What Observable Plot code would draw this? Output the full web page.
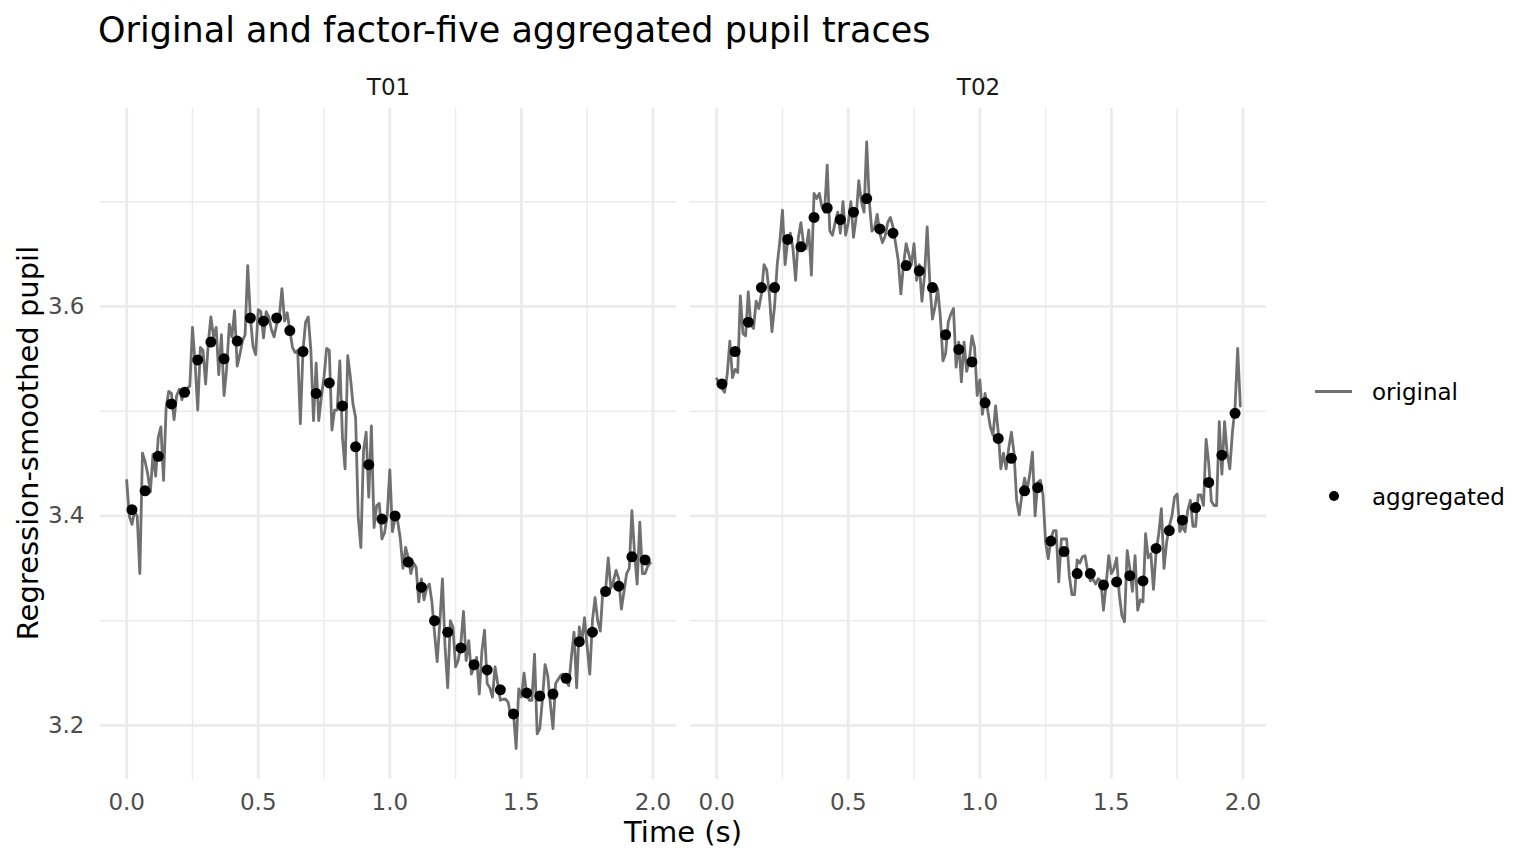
<!DOCTYPE html>
<html><head><meta charset="utf-8">
<script src="https://cdn.jsdelivr.net/npm/d3@7"></script>
<script src="https://cdn.jsdelivr.net/npm/@observablehq/plot@0.6"></script>
<style>
html,body{margin:0;padding:0;background:#fff;}
#wrap{position:relative;width:1536px;height:864px;overflow:hidden;font-family:"DejaVu Sans",sans-serif;background:#fff;}
#chart{position:absolute;left:0;top:60px;}
#overlay{position:absolute;left:0;top:0;pointer-events:none;}
</style></head><body>
<div id="wrap">
<div id="chart"></div>
<svg id="overlay" width="1536" height="864" font-family="DejaVu Sans, sans-serif"></svg>
</div>
<script>
// ---- data ----
const trials = ["T01", "T02"];
const titleText = "Original and factor-five aggregated pupil traces";
const xTitle = "Time (s)";
const yTitle = "Regression-smoothed pupil";
const legendLabels = ["original", "aggregated"];

const sampleStep = 0.01;     // seconds between original samples
const aggFactor = 5;         // aggregation factor

const t01Original = [
3.434,3.400,3.392,3.404,3.400, 3.345,3.460,3.452,3.440,3.423,
3.459,3.438,3.475,3.485,3.434, 3.504,3.519,3.517,3.492,3.515,
3.521,3.511,3.521,3.522,3.524, 3.580,3.546,3.501,3.561,3.558,
3.526,3.565,3.590,3.571,3.580, 3.535,3.573,3.515,3.541,3.583,
3.571,3.596,3.543,3.554,3.567, 3.573,3.639,3.590,3.562,3.554,
3.597,3.595,3.570,3.595,3.590, 3.578,3.571,3.583,3.590,3.617,
3.586,3.594,3.577,3.561,3.556, 3.558,3.488,3.558,3.585,3.590,
3.558,3.491,3.546,3.491,3.514, 3.533,3.560,3.558,3.482,3.501,
3.501,3.548,3.475,3.445,3.553, 3.533,3.507,3.494,3.399,3.370,
3.462,3.480,3.418,3.486,3.389, 3.410,3.412,3.378,3.384,3.400,
3.444,3.385,3.398,3.395,3.378, 3.350,3.370,3.360,3.345,3.355,
3.351,3.318,3.340,3.320,3.331, 3.335,3.318,3.288,3.261,3.298,
3.340,3.275,3.236,3.300,3.294, 3.256,3.262,3.278,3.309,3.262,
3.281,3.249,3.256,3.265,3.230, 3.271,3.291,3.240,3.236,3.227,
3.256,3.240,3.224,3.225,3.225, 3.222,3.208,3.212,3.178,3.235,
3.227,3.250,3.230,3.224,3.224, 3.268,3.192,3.197,3.225,3.258,
3.248,3.221,3.197,3.240,3.244, 3.248,3.249,3.243,3.238,3.265,
3.289,3.236,3.294,3.280,3.303, 3.275,3.249,3.300,3.322,3.300,
3.290,3.330,3.329,3.360,3.331, 3.338,3.348,3.340,3.311,3.328,
3.345,3.350,3.405,3.365,3.335, 3.394,3.345,3.345,3.352,3.355
];
const t02Original = [
3.531,3.526,3.522,3.518,3.535, 3.567,3.532,3.540,3.537,3.610,
3.574,3.572,3.614,3.582,3.579, 3.605,3.598,3.612,3.640,3.635,
3.612,3.576,3.600,3.640,3.662, 3.692,3.640,3.663,3.670,3.655,
3.625,3.665,3.680,3.660,3.655, 3.673,3.630,3.708,3.703,3.708,
3.695,3.690,3.735,3.672,3.668, 3.680,3.690,3.670,3.700,3.668,
3.680,3.700,3.666,3.685,3.720, 3.700,3.690,3.757,3.700,3.672,
3.675,3.688,3.670,3.661,3.667, 3.680,3.685,3.676,3.660,3.644,
3.612,3.640,3.660,3.650,3.640, 3.660,3.625,3.640,3.605,3.630,
3.676,3.622,3.588,3.600,3.617, 3.590,3.548,3.555,3.585,3.593,
3.598,3.542,3.566,3.528,3.566, 3.538,3.548,3.572,3.561,3.515,
3.530,3.497,3.517,3.501,3.485, 3.477,3.505,3.480,3.445,3.460,
3.445,3.465,3.480,3.460,3.415, 3.401,3.420,3.436,3.425,3.440,
3.461,3.400,3.432,3.434,3.420, 3.375,3.359,3.378,3.386,3.386,
3.337,3.378,3.378,3.378,3.343, 3.325,3.325,3.358,3.355,3.361,
3.362,3.347,3.338,3.340,3.335, 3.340,3.338,3.310,3.335,3.362,
3.345,3.350,3.360,3.325,3.305, 3.299,3.367,3.350,3.328,3.362,
3.310,3.320,3.318,3.383,3.360, 3.364,3.330,3.366,3.383,3.407,
3.350,3.375,3.390,3.400,3.418, 3.421,3.385,3.390,3.385,3.405,
3.415,3.390,3.390,3.420,3.420, 3.410,3.473,3.450,3.414,3.410,
3.410,3.490,3.440,3.490,3.460, 3.445,3.480,3.504,3.560,3.505
];
const t01Aggregated = [
3.406,3.424,3.457,3.507,3.518,3.549,3.566,3.550,3.567,3.589,
3.586,3.589,3.577,3.557,3.517,3.527,3.505,3.466,3.449,3.397,
3.400,3.356,3.332,3.300,3.289,3.274,3.258,3.253,3.234,3.211,
3.231,3.228,3.230,3.245,3.280,3.289,3.328,3.333,3.361,3.358
];
const t02Aggregated = [
3.526,3.557,3.585,3.618,3.618,3.664,3.657,3.685,3.694,3.683,
3.690,3.703,3.674,3.670,3.639,3.634,3.618,3.573,3.559,3.547,
3.508,3.474,3.455,3.424,3.427,3.376,3.366,3.345,3.345,3.334,
3.337,3.343,3.338,3.369,3.386,3.396,3.408,3.432,3.458,3.498
];
const xTicks = [0, 0.5, 1, 1.5, 2];
const xMinor = [0.25, 0.75, 1.25, 1.75];
const yTicks = [3.2, 3.4, 3.6];
const yMinor = [3.3, 3.5, 3.7];

// ---- build tables ----
const originalRows = [];
const aggRows = [];
[[trials[0], t01Original, t01Aggregated], [trials[1], t02Original, t02Aggregated]].forEach(([trial, orig, agg]) => {
  const times = orig.map((_, i) => Math.round(i * sampleStep * 1000) / 1000);
  orig.forEach((v, i) => originalRows.push({trial, time: times[i], value: v}));
  agg.forEach((v, k) => {
    const t = d3.mean(times.slice(k * aggFactor, (k + 1) * aggFactor));
    aggRows.push({trial, time: t, value: v});
  });
});

const grid = "#EBEBEB";
const chart = Plot.plot({
  width: 1536,
  height: 804,
  marginLeft: 100,
  marginRight: 269,
  marginTop: 48,
  marginBottom: 85,
  x: {domain: [-0.0995, 2.0895]},
  y: {domain: [3.1484, 3.789]},
  fx: {domain: trials, paddingInner: 0.0237, paddingOuter: 0},
  style: {fontFamily: '"DejaVu Sans", sans-serif', fontSize: "23px", color: "#4D4D4D", background: "#fff", overflow: "visible"},
  marks: [
    Plot.ruleX(xMinor, {stroke: grid, strokeWidth: 1.4}),
    Plot.ruleY(yMinor, {stroke: grid, strokeWidth: 1.4}),
    Plot.ruleX(xTicks, {stroke: grid, strokeWidth: 2.8}),
    Plot.ruleY(yTicks, {stroke: grid, strokeWidth: 2.8}),
    Plot.line(originalRows, {x: "time", y: "value", fx: "trial", stroke: "#707070", strokeWidth: 2.8}),
    Plot.dot(aggRows, {x: "time", y: "value", fx: "trial", fill: "#000", r: 5.5}),
    Plot.axisX({ticks: xTicks, tickFormat: d3.format(".1f"), tickSize: 0, tickPadding: 14, label: null}),
    Plot.axisY({ticks: yTicks, tickFormat: d3.format(".1f"), tickSize: 0, tickPadding: 16, label: null}),
    Plot.axisFx({anchor: "top", tickSize: 0, tickPadding: 14, label: null, color: "#1A1A1A"})
  ]
});
document.getElementById("chart").appendChild(chart);

// ---- title, axis titles, legend ----
const ov = d3.select("#overlay");
ov.append("text").attr("x", 98).attr("y", 42).attr("font-size", 35).attr("fill", "#000").text(titleText);
ov.append("text").attr("x", 683).attr("y", 842).attr("text-anchor", "middle").attr("font-size", 29).attr("fill", "#000").text(xTitle);
ov.append("text").attr("transform", "translate(38,443) rotate(-90)").attr("text-anchor", "middle").attr("font-size", 29).attr("fill", "#000").text(yTitle);
const lg = ov.append("g");
lg.append("line").attr("x1", 1315).attr("x2", 1352).attr("y1", 391.5).attr("y2", 391.5).attr("stroke", "#707070").attr("stroke-width", 2.8);
lg.append("circle").attr("cx", 1334).attr("cy", 496).attr("r", 5).attr("fill", "#000");
lg.append("text").attr("x", 1372).attr("y", 400).attr("font-size", 23).attr("fill", "#000").text(legendLabels[0]);
lg.append("text").attr("x", 1372).attr("y", 505).attr("font-size", 23).attr("fill", "#000").text(legendLabels[1]);
</script>
</body></html>
